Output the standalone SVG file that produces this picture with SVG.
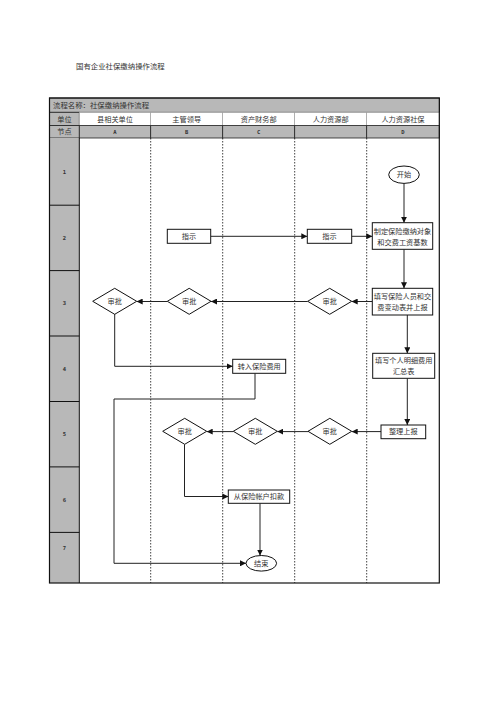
<svg xmlns="http://www.w3.org/2000/svg" width="496" height="702" viewBox="0 0 496 702">
<style>
text{font-family:"Noto Sans CJK SC","Liberation Serif",serif;fill:#333;}
.t{font-size:7.2px;text-anchor:middle;}
.n{font-family:"DejaVu Sans Mono","Liberation Mono",monospace;font-size:5.5px;text-anchor:middle;font-weight:bold;fill:#333;}
.box{fill:#fff;stroke:#111;stroke-width:1;}
.gray{fill:#b8b8b8;stroke:#222;stroke-width:0.8;}
.hw{fill:#fff;stroke:#999;stroke-width:0.6;}
.dash{stroke:#111;stroke-width:0.8;stroke-dasharray:1.5,1.5;fill:none;}
.c{fill:none;stroke:#222;stroke-width:1;marker-end:url(#ah);}
</style>
<defs>
<marker id="ah" markerUnits="userSpaceOnUse" markerWidth="6" markerHeight="6" refX="6" refY="3" orient="auto">
<path d="M0,0 L6,3 L0,6 z" fill="#111"/>
</marker>
</defs>
<rect width="496" height="702" fill="#fff"/>
<text x="76" y="69" style="font-size:7.4px;">国有企业社保缴纳操作流程</text>

<g id="table">
<rect class="gray" x="49.5" y="98" width="390" height="14.3"/>
<text x="53" y="108" style="font-size:7.4px;">流程名称：社保缴纳操作流程</text>
<rect class="gray" x="49.5" y="112.3" width="29.8" height="13.3"/>
<rect class="hw" x="79.3" y="112.3" width="71.4" height="13.3"/>
<rect class="hw" x="150.7" y="112.3" width="72" height="13.3"/>
<rect class="hw" x="222.7" y="112.3" width="72" height="13.3"/>
<rect class="hw" x="294.7" y="112.3" width="72" height="13.3"/>
<rect class="hw" x="366.7" y="112.3" width="72.6" height="13.3"/>
<text class="t" x="64.4" y="121.5">单位</text>
<text class="t" x="115" y="121.5">县相关单位</text>
<text class="t" x="186.7" y="121.5">主管领导</text>
<text class="t" x="258.7" y="121.5">资产财务部</text>
<text class="t" x="330.7" y="121.5">人力资源部</text>
<text class="t" x="403" y="121.5">人力资源社保</text>
<rect class="gray" x="49.5" y="125.6" width="29.8" height="12.4"/>
<rect class="gray" x="79.3" y="125.6" width="71.4" height="12.4"/>
<rect class="gray" x="150.7" y="125.6" width="72" height="12.4"/>
<rect class="gray" x="222.7" y="125.6" width="72" height="12.4"/>
<rect class="gray" x="294.7" y="125.6" width="72" height="12.4"/>
<rect class="gray" x="366.7" y="125.6" width="72.6" height="12.4"/>
<text class="t" x="64.4" y="134.3">节点</text>
<text class="n" x="115" y="134">A</text>
<text class="n" x="186.7" y="134">B</text>
<text class="n" x="258.7" y="134">C</text>
<text class="n" x="403" y="134">D</text>
<rect x="49.5" y="138" width="29.8" height="445" fill="#b8b8b8"/>
<g stroke="#111" stroke-width="1">
<line x1="49.5" y1="205.2" x2="79.3" y2="205.2"/>
<line x1="49.5" y1="270.6" x2="79.3" y2="270.6"/>
<line x1="49.5" y1="336" x2="79.3" y2="336"/>
<line x1="49.5" y1="401.5" x2="79.3" y2="401.5"/>
<line x1="49.5" y1="466.9" x2="79.3" y2="466.9"/>
<line x1="49.5" y1="532.4" x2="79.3" y2="532.4"/>
<line x1="79.3" y1="138" x2="79.3" y2="583"/>
</g>
<text class="n" x="64.4" y="173.5">1</text>
<text class="n" x="64.4" y="239.8">2</text>
<text class="n" x="64.4" y="305.2">3</text>
<text class="n" x="64.4" y="370.6">4</text>
<text class="n" x="64.4" y="436">5</text>
<text class="n" x="64.4" y="501.5">6</text>
<text class="n" x="64.4" y="550">7</text>
<line class="dash" x1="150.7" y1="138" x2="150.7" y2="583"/>
<line class="dash" x1="222.7" y1="138" x2="222.7" y2="583"/>
<line class="dash" x1="294.7" y1="138" x2="294.7" y2="583"/>
<line class="dash" x1="366.7" y1="138" x2="366.7" y2="583"/>
<rect x="49.5" y="98" width="389.8" height="485" fill="none" stroke="#111" stroke-width="1.2"/>
</g>

<g id="connectors">
<path class="c" d="M404,183.4 V222.7"/>
<path class="c" d="M210.7,236.3 H307.3"/>
<path class="c" d="M351.7,236.3 H372.3"/>
<path class="c" d="M404,249.3 V288.3"/>
<path class="c" d="M372.3,301.5 H351.7"/>
<path class="c" d="M307.7,301.5 H211"/>
<path class="c" d="M167.3,301.5 H136.7"/>
<path class="c" d="M114.7,314 V366.3 H232.7"/>
<path class="c" d="M407.3,315 V353.3"/>
<path class="c" d="M255,373.3 V399 H114 V563.3 H246"/>
<path class="c" d="M407.3,378.3 V425"/>
<path class="c" d="M381,431.6 H351.7"/>
<path class="c" d="M308,431.6 H277.3"/>
<path class="c" d="M233.3,431.6 H206.7"/>
<path class="c" d="M184.5,444.3 V496.5 H228.3"/>
<path class="c" d="M260,503.3 V555.5"/>
</g>

<g id="start"><ellipse class="box" cx="404" cy="174.7" rx="15.3" ry="8.7"/><text class="t" x="404" y="177.3">开始</text></g>
<g id="zhidingbox"><rect class="box" x="372.3" y="222.7" width="60.4" height="26.6"/><text class="t" x="402.5" y="233.8">制定保险缴纳对象</text><text class="t" x="402.5" y="244.8">和交费工资基数</text></g>
<g id="zhishiB"><rect class="box" x="167.3" y="229.3" width="43.4" height="14"/><text class="t" x="189" y="238.9">指示</text></g>
<g id="zhishiHR"><rect class="box" x="307.3" y="229.3" width="44.4" height="14"/><text class="t" x="329.5" y="238.9">指示</text></g>
<g id="tianxie1"><rect class="box" x="372.3" y="288.3" width="60.4" height="26.7"/><text class="t" x="402.5" y="299.3">填写保险人员和交</text><text class="t" x="402.5" y="310.3">费变动表并上报</text></g>
<g id="shenpi3HR"><polygon class="box" points="307.7,301.3 329.7,288.3 351.7,301.3 329.7,314.3"/><text class="t" x="329.7" y="303.9">审批</text></g>
<g id="shenpi3B"><polygon class="box" points="167.3,301.3 189.2,288.3 211,301.3 189.2,314.3"/><text class="t" x="189.2" y="303.9">审批</text></g>
<g id="shenpi3A"><polygon class="box" points="92.7,301.3 114.7,288.3 136.7,301.3 114.7,314.3"/><text class="t" x="114.7" y="303.9">审批</text></g>
<g id="zhuanru"><rect class="box" x="232.7" y="359.3" width="53" height="14"/><text class="t" x="259.2" y="368.9">转入保险费用</text></g>
<g id="tianxie2"><rect class="box" x="372.7" y="353.3" width="62" height="25"/><text class="t" x="403.7" y="363">填写个人明细费用</text><text class="t" x="403.7" y="374">汇总表</text></g>
<g id="zhengli"><rect class="box" x="381" y="425" width="44.7" height="13.7"/><text class="t" x="403.3" y="434.4">整理上报</text></g>
<g id="shenpi5HR"><polygon class="box" points="308,431.3 329.8,418.3 351.7,431.3 329.8,444.3"/><text class="t" x="329.8" y="433.9">审批</text></g>
<g id="shenpi5C"><polygon class="box" points="233.3,431.3 255.3,418.3 277.3,431.3 255.3,444.3"/><text class="t" x="255.3" y="433.9">审批</text></g>
<g id="shenpi5B"><polygon class="box" points="162.7,431.3 184.7,418.3 206.7,431.3 184.7,444.3"/><text class="t" x="184.7" y="433.9">审批</text></g>
<g id="koukuan"><rect class="box" x="228.3" y="490" width="61.4" height="13.3"/><text class="t" x="259" y="499.3">从保险帐户扣款</text></g>
<g id="end"><ellipse class="box" cx="261.3" cy="563.3" rx="15.3" ry="7.8"/><text class="t" x="261.3" y="565.9">结束</text></g>
</svg>
